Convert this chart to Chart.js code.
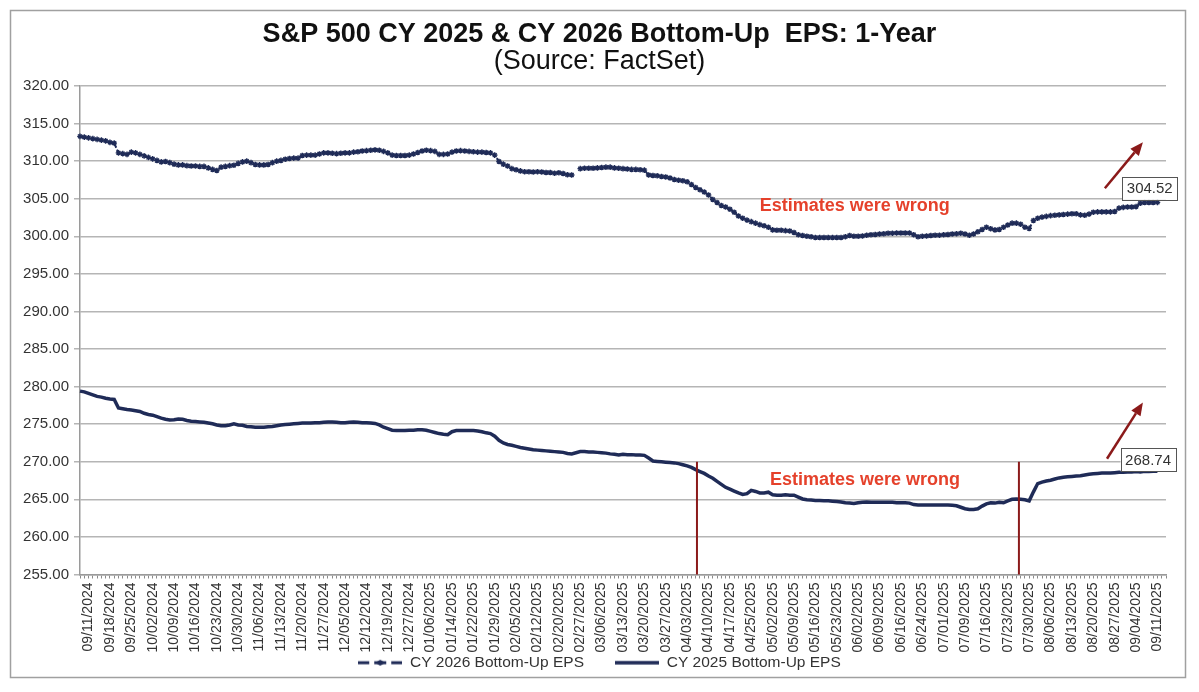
<!DOCTYPE html>
<html><head><meta charset="utf-8">
<script src="https://cdn.jsdelivr.net/npm/chart.js@4.4.1/dist/chart.umd.min.js"></script>
<style>html,body{margin:0;padding:0;background:#fff;}canvas{display:block;}</style>
</head><body>
<canvas id="c" width="1199" height="692"></canvas>
<script>
const weekLabels = ['09/11/2024','09/18/2024','09/25/2024','10/02/2024','10/09/2024','10/16/2024','10/23/2024','10/30/2024','11/06/2024','11/13/2024','11/20/2024','11/27/2024','12/05/2024','12/12/2024','12/19/2024','12/27/2024','01/06/2025','01/14/2025','01/22/2025','01/29/2025','02/05/2025','02/12/2025','02/20/2025','02/27/2025','03/06/2025','03/13/2025','03/20/2025','03/27/2025','04/03/2025','04/10/2025','04/17/2025','04/25/2025','05/02/2025','05/09/2025','05/16/2025','05/23/2025','06/02/2025','06/09/2025','06/16/2025','06/24/2025','07/01/2025','07/09/2025','07/16/2025','07/23/2025','07/30/2025','08/06/2025','08/13/2025','08/20/2025','08/27/2025','09/04/2025','09/11/2025'];

// daily values (business days), first two days precede the 09/11/2024 label
const cy2026 = [313.3, 313.2,
 313.1, 313.0, 312.9, 312.8, 312.7,
 312.5, 312.4, 311.1, 311.0, 310.9,
 311.2, 311.1, 310.9, 310.7, 310.5,
 310.3, 310.1, 309.9, 309.95, 309.8,
 309.6, 309.5, 309.5, 309.4, 309.35,
 309.35, 309.3, 309.3, 309.1, 308.9,
 308.75, 309.2, 309.3, 309.4, 309.45,
 309.7, 309.9, 310.0, 309.8, 309.55,
 309.5, 309.5, 309.55, 309.8, 310.0,
 310.1, 310.25, 310.35, 310.4, 310.4,
 310.75, 310.8, 310.8, 310.8, 310.95,
 311.1, 311.1, 311.05, 311.0, 311.05,
 311.1, 311.1, 311.2, 311.25, 311.35,
 311.4, 311.45, 311.5, 311.45, 311.3,
 311.1, 310.8, 310.75, 310.75, 310.75,
 310.8, 310.95, 311.15, 311.35, 311.45,
 311.4, 311.3, 310.9, 310.9, 310.95,
 311.2, 311.35, 311.4, 311.35, 311.3,
 311.25, 311.2, 311.2, 311.15, 311.1,
 310.8, 309.95, 309.6, 309.35, 309.0,
 308.85, 308.7, 308.6, 308.6, 308.55,
 308.6, 308.55, 308.5, 308.5, 308.4,
 308.45, 308.35, 308.2, 308.15, null,
 309.0, 309.05, 309.05, 309.05, 309.1,
 309.15, 309.2, 309.2, 309.1, 309.05,
 309.0, 308.95, 308.9, 308.9, 308.85,
 308.8, 308.15, 308.1, 308.05, 307.95,
 307.9, 307.75, 307.55, 307.45, 307.4,
 307.25, 306.9, 306.5, 306.2, 305.9,
 305.5, 304.9, 304.5, 304.1, 303.9,
 303.6, 303.2, 302.7, 302.4, 302.15,
 301.95, 301.75, 301.55, 301.4, 301.2,
 300.85, 300.8, 300.8, 300.75, 300.7,
 300.5, 300.2, 300.1, 300.0, 299.95,
 299.85, 299.85, 299.85, 299.85, 299.85,
 299.85, 299.85, 299.95, 300.1, 300.0,
 300.0, 300.05, 300.15, 300.2, 300.25,
 300.3, 300.35, 300.4, 300.4, 300.45,
 300.45, 300.45, 300.45, 300.2, 299.95,
 300.0, 300.05, 300.1, 300.15, 300.15,
 300.2, 300.25, 300.3, 300.35, 300.4,
 300.3, 300.15, 300.3, 300.6, 300.9,
 301.2, 301.0, 300.85, 300.9, 301.2,
 301.5, 301.75, 301.75, 301.6, 301.2,
 301.05, 302.1, 302.4, 302.55, 302.65,
 302.75, 302.8, 302.85, 302.9, 302.95,
 303.0, 303.0, 302.85, 302.8, 302.95,
 303.2, 303.25, 303.25, 303.25, 303.25,
 303.3, 303.75, 303.85, 303.9, 303.9,
 303.95, 304.4, 304.5, 304.5, 304.5,
 304.52];

const cy2025 = [279.4, 279.3,
 279.1, 278.9, 278.7, 278.6, 278.45,
 278.35, 278.3, 277.15, 277.05, 276.95,
 276.9, 276.8, 276.7, 276.45, 276.3,
 276.2, 276.0, 275.8, 275.65, 275.55,
 275.6, 275.7, 275.65, 275.5, 275.4,
 275.35, 275.3, 275.25, 275.15, 275.05,
 274.9, 274.8, 274.8, 274.9, 275.05,
 274.9, 274.85, 274.7, 274.65, 274.6,
 274.6, 274.6, 274.65, 274.7, 274.8,
 274.9, 274.95, 275.0, 275.05, 275.1,
 275.15, 275.15, 275.15, 275.2, 275.2,
 275.25, 275.3, 275.3, 275.25, 275.2,
 275.2, 275.25, 275.3, 275.25, 275.2,
 275.2, 275.15, 275.1, 274.9, 274.6,
 274.4, 274.2, 274.15, 274.15, 274.15,
 274.2, 274.2, 274.25, 274.25, 274.2,
 274.05, 273.9, 273.75, 273.65, 273.6,
 274.0, 274.15, 274.15, 274.15, 274.15,
 274.15, 274.1, 274.0, 273.85, 273.75,
 273.4, 272.85, 272.5, 272.3, 272.2,
 272.05, 271.9, 271.8, 271.7, 271.6,
 271.55, 271.5, 271.45, 271.4, 271.35,
 271.3, 271.25, 271.1, 271.05, 271.2,
 271.35, 271.35, 271.3, 271.3, 271.25,
 271.2, 271.15, 271.05, 271.0, 270.9,
 271.0, 270.95, 270.95, 270.9, 270.9,
 270.85, 270.5, 270.1, 270.05, 270.0,
 269.95, 269.9, 269.85, 269.75, 269.6,
 269.45, 269.25, 268.95, 268.7, 268.45,
 268.1, 267.8, 267.4, 267.0, 266.6,
 266.35, 266.1, 265.85, 265.65, 265.75,
 266.2, 266.05, 265.85, 265.85, 265.95,
 265.6, 265.55, 265.55, 265.6, 265.55,
 265.55, 265.3, 265.05, 264.95, 264.9,
 264.85, 264.85, 264.8, 264.8, 264.75,
 264.7, 264.65, 264.55, 264.5, 264.45,
 264.55, 264.6, 264.65, 264.6, 264.6,
 264.6, 264.6, 264.6, 264.6, 264.55,
 264.55, 264.55, 264.5, 264.3, 264.25,
 264.25, 264.25, 264.25, 264.25, 264.25,
 264.25, 264.25, 264.2, 264.15, 263.95,
 263.75, 263.65, 263.65, 263.75, 264.1,
 264.4, 264.55, 264.5, 264.6, 264.55,
 264.8, 265.0, 265.05, 265.0, 264.95,
 264.8, 266.0, 267.1, 267.3, 267.45,
 267.55, 267.7, 267.85, 267.95, 268.0,
 268.05, 268.1, 268.15, 268.25, 268.35,
 268.4, 268.45, 268.5, 268.5, 268.5,
 268.55, 268.6, 268.6, 268.65, 268.65,
 268.7, 268.65, 268.75, 268.7, 268.75,
 268.74];

const seriesNames = ['CY 2026 Bottom-Up EPS', 'CY 2025 Bottom-Up EPS'];
const noteText = 'Estimates were wrong';

// category labels: a week label every 5th business day, 2 leading + 2 trailing unlabeled slots
const LEAD = 2, TRAIL = 2;
const categories = [];
for (let i = 0; i < cy2026.length + TRAIL; i++) {
  const k = (i - LEAD) / 5;
  categories.push(Number.isInteger(k) && k >= 0 && k < weekLabels.length ? weekLabels[k] : '');
}

const FONT = "'Liberation Sans', Arial, sans-serif";
const NAVY = '#1f2b57';
const DARKRED = '#8b1a1a';

function makeIcon(kind) {
  const cv = document.createElement('canvas');
  cv.width = 44; cv.height = 12;
  const g = cv.getContext('2d');
  g.strokeStyle = NAVY; g.fillStyle = NAVY;
  if (kind === 'dash') {
    g.lineWidth = 3;
    [[0,11],[16,28],[33,44]].forEach(([a,b]) => { g.beginPath(); g.moveTo(a,6); g.lineTo(b,6); g.stroke(); });
    g.beginPath(); g.moveTo(17,6); g.lineTo(22,3); g.lineTo(27,6); g.lineTo(22,9); g.closePath(); g.fill();
  } else {
    g.lineWidth = 3.5;
    g.beginPath(); g.moveTo(0,6); g.lineTo(44,6); g.stroke();
  }
  return cv;
}
const icons = [makeIcon('dash'), makeIcon('solid')];

const frame = {
  id: 'frame',
  beforeDraw(chart) {
    const ctx = chart.ctx;
    ctx.save();
    ctx.strokeStyle = '#a0a0a0';
    ctx.lineWidth = 1.5;
    ctx.strokeRect(10.5, 10.5, 1175, 667);
    ctx.restore();
  }
};

const notes = {
  id: 'notes',
  afterDraw(chart) {
    const {ctx, scales: {x, y}} = chart;
    const P = (i, v) => [x.getPixelForValue(i), y.getPixelForValue(v)];
    ctx.save();
    // red marker lines
    ctx.strokeStyle = DARKRED; ctx.lineWidth = 2;
    [144.3, 219.6].forEach(i => {
      const [px, y1] = P(i, 270); const y2 = y.getPixelForValue(255);
      ctx.beginPath(); ctx.moveTo(px, y1); ctx.lineTo(px, y2); ctx.stroke();
    });
    // texts
    ctx.fillStyle = '#e5412b';
    ctx.font = 'bold 18px ' + FONT;
    ctx.textAlign = 'center'; ctx.textBaseline = 'middle';
    [[181.2, 304.0], [183.6, 267.6]].forEach(([i, v]) => { const [px, py] = P(i, v); ctx.fillText(noteText, px, py); });
    // arrows
    ctx.strokeStyle = DARKRED; ctx.fillStyle = DARKRED; ctx.lineWidth = 2.5;
    [[[239.7, 306.4], [248.6, 312.5]], [[240.2, 270.4], [248.6, 277.9]]].forEach(([a, b]) => {
      const [x1, y1] = P(a[0], a[1]); const [x2, y2] = P(b[0], b[1]);
      const ang = Math.atan2(y2 - y1, x2 - x1);
      const L = 13, W = 5.5;
      const bx = x2 - L * Math.cos(ang), by = y2 - L * Math.sin(ang);
      ctx.beginPath(); ctx.moveTo(x1, y1); ctx.lineTo(bx, by); ctx.stroke();
      ctx.beginPath();
      ctx.moveTo(x2, y2);
      ctx.lineTo(bx + W * Math.sin(ang), by - W * Math.cos(ang));
      ctx.lineTo(bx - W * Math.sin(ang), by + W * Math.cos(ang));
      ctx.closePath(); ctx.fill();
    });
    // last value boxes
    ctx.font = '15px ' + FONT;
    [[250.2, 306.4, cy2026[cy2026.length - 1]], [249.8, 270.27, cy2025[cy2025.length - 1]]].forEach(([i, v, val]) => {
      const [px, py] = P(i, v);
      const w = 55, h = 23;
      ctx.fillStyle = '#fff'; ctx.fillRect(px - w / 2, py - h / 2, w, h);
      ctx.strokeStyle = '#555'; ctx.lineWidth = 1; ctx.strokeRect(Math.round(px - w / 2) + 0.5, Math.round(py - h / 2) + 0.5, w, h);
      ctx.fillStyle = '#333'; ctx.fillText(val.toFixed(2), px, py + 1);
    });
    ctx.restore();
  }
};

new Chart(document.getElementById('c'), {
  type: 'line',
  data: {
    labels: categories,
    datasets: [
      { label: seriesNames[0], data: cy2026, borderColor: NAVY, backgroundColor: NAVY, borderWidth: 2, borderDash: [4, 2],
        pointStyle: 'star', pointRadius: 2.8, pointBorderWidth: 1.4, pointBorderColor: NAVY, pointBackgroundColor: NAVY,
        spanGaps: false, tension: 0 },
      { label: seriesNames[1], data: cy2025, borderColor: NAVY, backgroundColor: NAVY, borderWidth: 3.5,
        pointRadius: 0, tension: 0 }
    ]
  },
  options: {
    responsive: false,
    animation: false,
    layout: { padding: { left: 0, right: 0, top: 0, bottom: 11.5 } },
    plugins: {
      tooltip: { enabled: false },
      title: { display: true, text: 'S&P 500 CY 2025 & CY 2026 Bottom-Up  EPS: 1-Year', color: '#111',
        font: { family: FONT, size: 27, weight: 'bold', lineHeight: 1 }, padding: { top: 21, bottom: 0 } },
      subtitle: { display: true, text: '(Source: FactSet)', color: '#111',
        font: { family: FONT, size: 27, weight: 'normal', lineHeight: 1 }, padding: { top: 0, bottom: 11 } },
      legend: { position: 'bottom',
        labels: { usePointStyle: true, pointStyleWidth: 44, padding: 31, color: '#333', font: { family: FONT, size: 15.5 },
          generateLabels: (chart) => chart.data.datasets.map((ds, i) => ({ text: ds.label, pointStyle: icons[i],
            fillStyle: 'rgba(0,0,0,0)', strokeStyle: 'rgba(0,0,0,0)', lineWidth: 0, hidden: false, datasetIndex: i, fontColor: '#333' })) } }
    },
    scales: {
      x: {
        type: 'category',
        offset: false,
        grid: { display: true, drawOnChartArea: false, drawTicks: true, tickLength: 4, color: '#8a8a8a', lineWidth: 1 },
        border: { display: true, color: '#9a9a9a', width: 1.5 },
        ticks: { autoSkip: false, maxRotation: 90, minRotation: 90, padding: 4, color: '#333', font: { family: FONT, size: 14 },
          callback: function (v) { return this.getLabelForValue(v); } },
        afterFit: (s) => { s.height = 49.5; s._computeLabelArea = () => null; }
      },
      y: {
        min: 255, max: 320,
        grid: { color: '#b5b5b5', lineWidth: 1.5, tickLength: 6, drawTicks: true },
        border: { display: true, color: '#9a9a9a', width: 1.5 },
        ticks: { stepSize: 5, padding: 5, color: '#333', font: { family: FONT, size: 15 }, callback: (v) => v.toFixed(2) },
        afterFit: (s) => { s.width = 80; }
      },
      yRight: {
        position: 'right', min: 0, max: 1,
        grid: { display: false }, border: { display: false }, ticks: { display: false },
        afterFit: (s) => { s.width = 33; }
      }
    }
  },
  plugins: [frame, notes]
});
</script>
</body></html>
